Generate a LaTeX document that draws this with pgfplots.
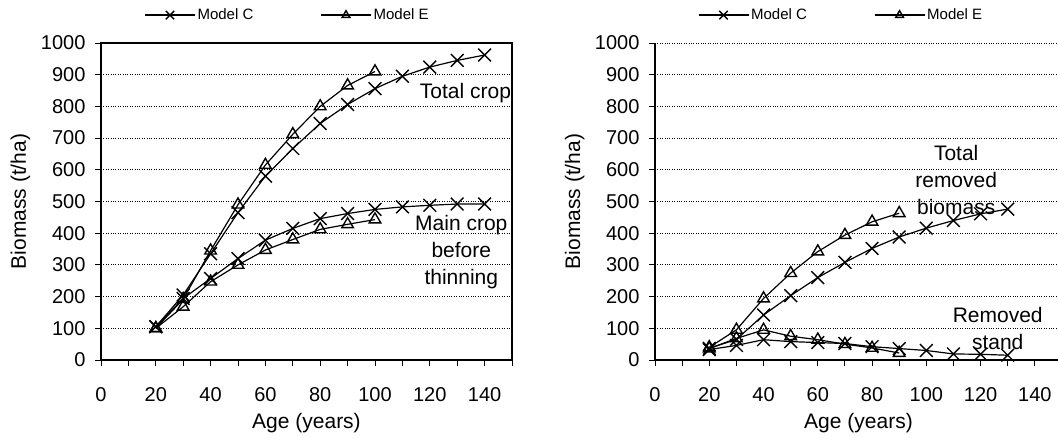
\documentclass[border=0pt]{standalone}
\usepackage{fontspec}
\setmainfont{Liberation Sans}
\usepackage{pgfplots}
\pgfplotsset{compat=1.18}
\pgfplotsset{
 base/.style={
  scale only axis, height=317pt,
  xmin=0, xmax=150, ymin=0, ymax=1000,
  xtick={0,20,...,140}, minor xtick={10,30,...,150},
  ytick={0,100,...,1000},
  tick align=outside, xtick pos=bottom, ytick pos=left,
  major tick length=6pt, minor tick length=6pt,
  ymajorgrids, major grid style={black, dotted, line width=0.9pt},
  tick style={black, line width=0.9pt},
  axis line style={-, black, line width=1.3pt},
  /pgf/number format/assume math mode=true,
  /pgf/number format/1000 sep={},
  tick label style={font=\fontsize{20}{24}\selectfont},
  xticklabel style={yshift=-18pt},
  yticklabel style={xshift=-6pt},
  every axis x label/.style={at={([yshift=-69pt]axis description cs:0.5,0)}, anchor=base, font=\fontsize{21}{25}\selectfont},
  every axis y label/.style={at={([xshift=-75pt]axis description cs:0,0.5)}, anchor=base, rotate=90, font=\fontsize{21}{25}\selectfont},
  xlabel={Age (years)}, ylabel={Biomass (t/ha)},
  every axis plot/.append style={black, line width=1.2pt, mark options={solid, line width=1.4pt}},
  legend columns=2,
  legend style={draw=none, fill=none, font=\fontsize{15}{18}\selectfont, anchor=west, at={(0.105,1.088)}, inner sep=0pt,
    nodes={inner xsep=2pt},
    /tikz/every even column/.append style={column sep=65pt}},
  legend image code/.code={\draw[mark repeat=2,mark phase=2,##1,every mark/.append style={scale=0.66}] plot coordinates {(0pt,0pt) (25pt,0pt) (50pt,0pt)};},
  cmark/.style={mark=x, mark size=9pt},
  emark/.style={mark=triangle, mark size=6.7pt},
 }
}
\newcommand{\annfont}{\fontsize{21}{27}\selectfont}
\begin{document}
\begin{tikzpicture}
\useasboundingbox (0,0) rectangle (1058pt,438pt);
\begin{axis}[base, at={(101pt,78pt)}, anchor=south west, width=411pt]
\addplot[cmark] coordinates {(20,105) (30,205) (40,335) (50,465) (60,580) (70,667) (80,746) (90,806) (100,856) (110,895) (120,924) (130,945) (140,962)};
\addlegendentry{Model C}
\addplot[emark] coordinates {(20,100) (30,192) (40,345) (50,490) (60,615) (70,712) (80,800) (90,866) (100,910)};
\addlegendentry{Model E}
\addplot[cmark, forget plot] coordinates {(20,105) (30,194) (40,257) (50,320) (60,378) (70,415) (80,446) (90,462) (100,475) (110,483) (120,488) (130,492) (140,492)};
\addplot[emark, forget plot] coordinates {(20,100) (30,168) (40,247) (50,300) (60,347) (70,380) (80,412) (90,428) (100,443)};
\node[font=\annfont] at (axis cs:133,842) {Total crop};
\node[font=\annfont, align=center] at (axis cs:131.5,342) {Main crop\\before\\thinning};
\end{axis}
\begin{axis}[base, at={(655pt,78pt)}, anchor=south west, width=407pt, axis x line*=bottom, axis y line*=left]
\addplot[cmark] coordinates {(20,37) (30,65) (40,142) (50,203) (60,260) (70,308) (80,352) (90,388) (100,416) (110,440) (120,461) (130,476)};
\addlegendentry{Model C}
\addplot[emark] coordinates {(20,40) (30,95) (40,194) (50,274) (60,342) (70,394) (80,436) (90,463)};
\addlegendentry{Model E}
\addplot[cmark, forget plot] coordinates {(20,33) (30,46) (40,64) (50,58) (60,55) (70,52) (80,42) (90,36) (100,30) (110,19) (120,18) (130,15)};
\addplot[emark, forget plot] coordinates {(20,36) (30,68) (40,95) (50,75) (60,64) (70,50) (80,38) (90,22)};
\node[font=\annfont, align=center] at (axis cs:111,568) {Total\\removed\\biomass};
\node[font=\annfont, align=center] at (axis cs:126.3,98) {Removed\\stand};
\end{axis}
\end{tikzpicture}
\end{document}
